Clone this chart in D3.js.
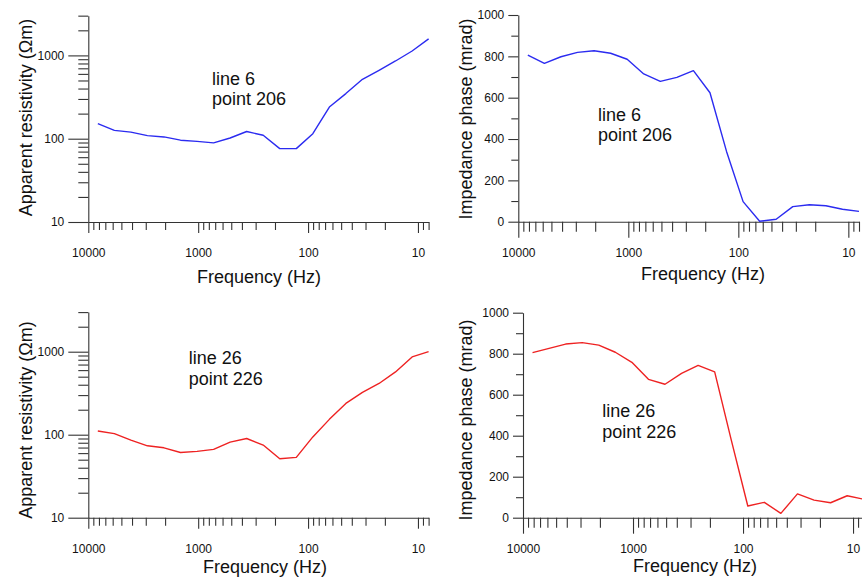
<!DOCTYPE html>
<html>
<head>
<meta charset="utf-8">
<script src="https://cdn.jsdelivr.net/npm/d3@7"></script>
<style>
  html, body { margin: 0; padding: 0; background: #fff; }
  svg { display: block; }
  text { font-family: "Liberation Sans", Arial, sans-serif; fill: #111; }
</style>
</head>
<body>
<svg id="chart" width="862" height="579"></svg>
<script>
// ---- data ----
const freqs = [8192, 5793, 4096, 2896, 2048, 1448, 1024, 724, 512, 362, 256, 181, 128, 90.5, 64, 45.3, 32, 22.6, 16, 11.3, 8];
const res6 = [152, 126, 120, 109, 105, 96, 93, 89, 102, 122, 110, 76, 76, 115, 240, 348, 516, 662, 857, 1130, 1580];
const phase6 = [806, 766, 798, 819, 827, 815, 786, 715, 679, 698, 731, 624, 340, 97, 2, 12, 73, 82, 77, 60, 50];
const res26 = [111, 103, 86, 73.5, 69.5, 61, 63, 66.5, 81.5, 90, 75, 51.3, 53.3, 94, 153, 238, 323, 414, 571, 865, 1000];
const phase26 = [805, 826, 847, 854, 842, 807, 758, 675, 651, 704, 743, 711, 380, 57, 75, 21, 116, 86, 73, 107, 90];

const xDomain = [10000, 8];
const xMajor = [10000, 1000, 100, 10];
const xMinor = [9000, 8000, 7000, 6000, 5000, 4000, 3000, 2000,
                900, 800, 700, 600, 500, 400, 300, 200,
                90, 80, 70, 60, 50, 40, 30, 20, 9, 8];
const resDomain = [10, 3000];
const resMajor = [10, 100, 1000];
const resMinor = [20, 30, 40, 50, 60, 70, 80, 90, 200, 300, 400, 500, 600, 700, 800, 900, 2000, 3000];
const phaseDomain = [0, 1000];
const phaseMajor = [0, 200, 400, 600, 800, 1000];
const phaseMinor = [100, 300, 500, 700, 900];

const labels6 = ["line 6", "point 206"];
const labels26 = ["line 26", "point 226"];
const resTitle = "Apparent resistivity (Ωm)";
const phaseTitle = "Impedance phase (mrad)";
const freqTitle = "Frequency (Hz)";

const svg = d3.select("#chart");

function panel(cfg) {
  const g = svg.append("g");
  const x = d3.scaleLog().domain(xDomain).range([cfg.left, cfg.right]);
  const y = (cfg.type === "res" ? d3.scaleLog() : d3.scaleLinear())
    .domain(cfg.type === "res" ? resDomain : phaseDomain)
    .range([cfg.bottom, cfg.top]);

  // x axis
  const xa = g.append("g").attr("transform", `translate(0,${cfg.bottom})`);
  xa.call(d3.axisBottom(x).tickValues(xMinor).tickSize(cfg.xMinorLen).tickSizeOuter(0).tickFormat(""));
  const xb = g.append("g").attr("transform", `translate(0,${cfg.bottom})`);
  xb.call(d3.axisBottom(x).tickValues(xMajor).tickSize(cfg.xMajorLen).tickSizeOuter(0)
    .tickPadding(35 - cfg.xMajorLen - 8.5).tickFormat(d3.format("d")));
  xb.select(".domain").remove();

  // y axis
  const ya = g.append("g").attr("transform", `translate(${cfg.left},0)`);
  const minor = cfg.type === "res" ? resMinor : phaseMinor;
  const major = cfg.type === "res" ? resMajor : phaseMajor;
  ya.call(d3.axisLeft(y).tickValues(minor).tickSize(cfg.yMinorLen).tickSizeOuter(0).tickFormat(""));
  const yb = g.append("g").attr("transform", `translate(${cfg.left},0)`);
  yb.call(d3.axisLeft(y).tickValues(major).tickSize(cfg.yMajorLen).tickSizeOuter(0)
    .tickPadding(4).tickFormat(d3.format("d")));
  yb.select(".domain").remove();

  g.selectAll(".domain, .tick line").attr("stroke", "#333").attr("stroke-width", 1.1);
  g.selectAll(".tick text").attr("font-size", 12).attr("fill", "#111")
    .style("font-family", '"Liberation Sans", Arial, sans-serif');

  // line
  const line = d3.line().x((d, i) => x(freqs[i])).y(d => y(d));
  g.append("path").datum(cfg.values).attr("d", line)
    .attr("fill", "none").attr("stroke", cfg.color).attr("stroke-width", 1.4)
    .attr("stroke-linejoin", "round");

  // titles
  g.append("text").attr("x", cfg.xTitleX).attr("y", cfg.xTitleY)
    .attr("text-anchor", "middle").attr("font-size", 18).text(freqTitle);
  g.append("text")
    .attr("transform", `translate(${cfg.yTitleX},${cfg.yTitleY}) rotate(-90)`)
    .attr("text-anchor", "middle").attr("font-size", 18)
    .text(cfg.type === "res" ? resTitle : phaseTitle);

  // annotation
  cfg.labels.forEach((t, i) => {
    g.append("text").attr("x", cfg.annX).attr("y", cfg.annY + i * 20.5)
      .attr("font-size", 18).text(t);
  });
}

panel({ type: "res", left: 88.3, right: 428.6, bottom: 222, top: 222 - 83.3 * Math.log10(300),
  values: res6, color: "#2b2bf0", labels: labels6, annX: 212, annY: 84.5,
  xMajorLen: 11, xMinorLen: 8, yMajorLen: 20, yMinorLen: 10,
  xTitleX: 259, xTitleY: 282.5, yTitleX: 32, yTitleY: 117.5 });

panel({ type: "phase", left: 518.3, right: 859, bottom: 221.7, top: 15,
  values: phase6, color: "#2b2bf0", labels: labels6, annX: 598, annY: 120.7,
  xMajorLen: 16, xMinorLen: 10, yMajorLen: 10, yMinorLen: 7,
  xTitleX: 703, xTitleY: 279.5, yTitleX: 472, yTitleY: 119 });

panel({ type: "res", left: 88.3, right: 428.6, bottom: 517.7, top: 517.7 - 83 * Math.log10(300),
  values: res26, color: "#ee2222", labels: labels26, annX: 188.7, annY: 364.3,
  xMajorLen: 11, xMinorLen: 8, yMajorLen: 20, yMinorLen: 10,
  xTitleX: 265, xTitleY: 572.5, yTitleX: 32, yTitleY: 420 });

panel({ type: "phase", left: 523, right: 863.7, bottom: 517.7, top: 312.7,
  values: phase26, color: "#ee2222", labels: labels26, annX: 602.3, annY: 417.3,
  xMajorLen: 16, xMinorLen: 10, yMajorLen: 10, yMinorLen: 7,
  xTitleX: 695, xTitleY: 571.5, yTitleX: 472, yTitleY: 420 });
</script>
</body>
</html>
